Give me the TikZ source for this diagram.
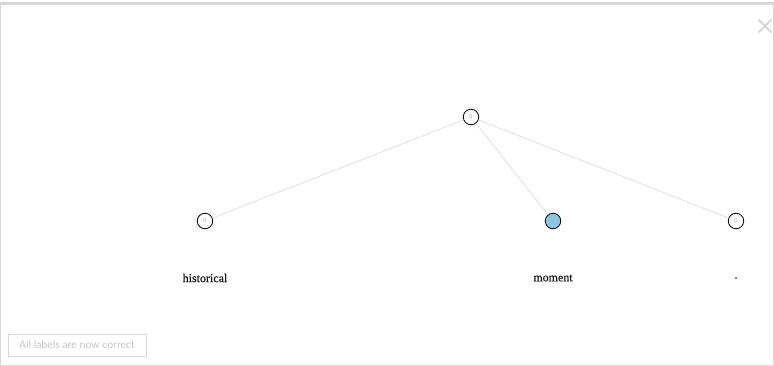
\documentclass[tikz,border=0pt]{standalone}
\usepackage{fontspec}
\setmainfont{Liberation Serif}
\newfontfamily\wordfont[FakeBold=0.6]{Liberation Serif}
\newfontfamily\btnfont{Lato}
\definecolor{edgegray}{HTML}{E2E2E2}
\definecolor{framegray}{HTML}{D8D8D8}
\definecolor{nodeblue}{HTML}{8EC6E2}
\definecolor{txtgray}{HTML}{A8A8A8}
\begin{document}
\begin{tikzpicture}[x=1pt,y=-1pt,
  tnode/.style={circle,draw=black,line width=0.8pt,minimum size=15.5pt,inner sep=0pt,fill=white,
    font=\fontsize{6}{6}\selectfont\sffamily\color{txtgray}},
  word/.style={font=\wordfont\fontsize{12}{13}\selectfont,text=black!90,inner sep=0pt},
  edge/.style={draw=edgegray,line width=0.9pt}]
\useasboundingbox (0,0) rectangle (774,366);
\fill[white] (0,0) rectangle (774,366);
% frame
\draw[framegray,line width=0.8pt] (0.5,4) -- (0.5,365.5) -- (773.5,365.5) -- (773.5,4);
\draw[framegray,line width=3pt] (0,3.5) -- (774,3.5);
% close icon
\coordinate (closec) at (765,26);
\draw[framegray,line width=1.8pt] ([shift={(-6.5,-6.5)}]closec) -- ([shift={(6.5,6.5)}]closec)
  ([shift={(-6.5,6.5)}]closec) -- ([shift={(6.5,-6.5)}]closec);
% nodes
\node[tnode] (root) at (471,117) {0};
\node[tnode] (n1) at (205,221) {0};
\node[tnode,fill=nodeblue] (n2) at (553,221) {+};
\node[tnode] (n3) at (736,221) {0};
\draw[edge] (root) -- (n1);
\draw[edge] (root) -- (n2);
\draw[edge] (root) -- (n3);
% words
\node[word] (w1) at (205,278) {historical};
\node[word] (w2) at (553,278) {moment};
\node[word] (w3) at (736,278) {.};
% button
\node[draw=framegray,line width=0.8pt,minimum width=138pt,minimum height=22pt,inner sep=0pt,
  font=\btnfont\fontsize{10.5}{11}\selectfont,text=black!22] (btn) at (77,345) {All labels are now correct};
\end{tikzpicture}
\end{document}
